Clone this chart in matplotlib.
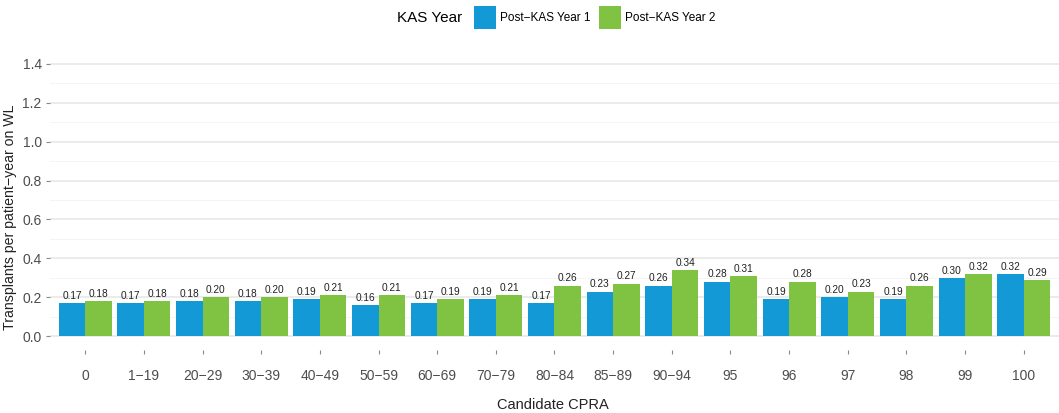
import matplotlib
matplotlib.use("Agg")
import matplotlib.pyplot as plt
import numpy as np
from matplotlib.patches import Patch
from matplotlib.offsetbox import HPacker

plt.rcParams['font.family'] = ['Liberation Sans', 'DejaVu Sans']

# data
categories = ['0', '1−19', '20−29', '30−39', '40−49', '50−59', '60−69', '70−79',
              '80−84', '85−89', '90−94', '95', '96', '97', '98', '99', '100']
year1 = [0.17, 0.17, 0.18, 0.18, 0.19, 0.16, 0.17, 0.19, 0.17, 0.23, 0.26,
         0.28, 0.19, 0.20, 0.19, 0.30, 0.32]
year2 = [0.18, 0.18, 0.20, 0.20, 0.21, 0.21, 0.19, 0.21, 0.26, 0.27, 0.34,
         0.31, 0.28, 0.23, 0.26, 0.32, 0.29]
series_names = ['Post−KAS Year 1', 'Post−KAS Year 2']
colors = ['#1399D6', '#80C342']

W, H = 1059, 413
fig = plt.figure(figsize=(W / 100, H / 100), dpi=100)
ax = fig.add_axes([0.0472, 0.1525, 0.9528, 0.7265])

x = np.arange(len(categories))
w = 0.45
for vals, off, col in [(year1, -w / 2, colors[0]), (year2, w / 2, colors[1])]:
    ax.bar(x + off, vals, width=w, color=col, zorder=3)
    for xi, v in zip(x + off, vals):
        ax.text(xi, v + 0.012, f"{v:.2f}", ha='center', va='bottom',
                fontsize=7.3, color='#222222', zorder=4)

ax.set_xlim(-0.6, len(categories) - 0.4)
ax.set_ylim(-0.07, 1.47)
yt = np.arange(0, 1.41, 0.2)
ax.set_yticks(yt)
ax.set_yticklabels([f"{t:.1f}" for t in yt])
ax.set_yticks(np.arange(0.1, 1.5, 0.2), minor=True)
ax.set_xticks(x)
ax.set_xticklabels(categories)

ax.grid(axis='y', which='major', color='#E6E6E6', linewidth=1.1, zorder=0)
ax.grid(axis='y', which='minor', color='#F3F3F3', linewidth=0.6, zorder=0)
for s in ax.spines.values():
    s.set_visible(False)
ax.tick_params(axis='both', which='major', colors='#888888', labelcolor='#4D4D4D',
               labelsize=10, length=3, width=0.8)
ax.tick_params(axis='y', which='major', pad=3)
ax.tick_params(axis='y', which='minor', length=0)
ax.tick_params(axis='x', pad=11)

# axis titles
fig.text(553 / W, 1 - 405 / H, 'Candidate CPRA', fontsize=10.5, color='#222222',
         ha='center', va='center')
fig.text(10 / W, 1 - 217 / H, 'Transplants per patient−year on WL', fontsize=10.2,
         color='#222222', ha='center', va='center', rotation=90)

handles = [Patch(facecolor=c, edgecolor='none') for c in colors]
leg = fig.legend(handles, series_names, title='KAS Year', loc='upper center',
                 bbox_to_anchor=(0.525, 1.01), ncol=2, frameon=False, fontsize=8.5,
                 title_fontsize=11, handlelength=1.86, handleheight=2.5,
                 handletextpad=0.3, columnspacing=0.75)
# put title to the left of the entries
box = leg._legend_box
box.__class__ = HPacker
box.sep = 9
box.align = 'center'

fig.savefig('out.png', dpi=100)
